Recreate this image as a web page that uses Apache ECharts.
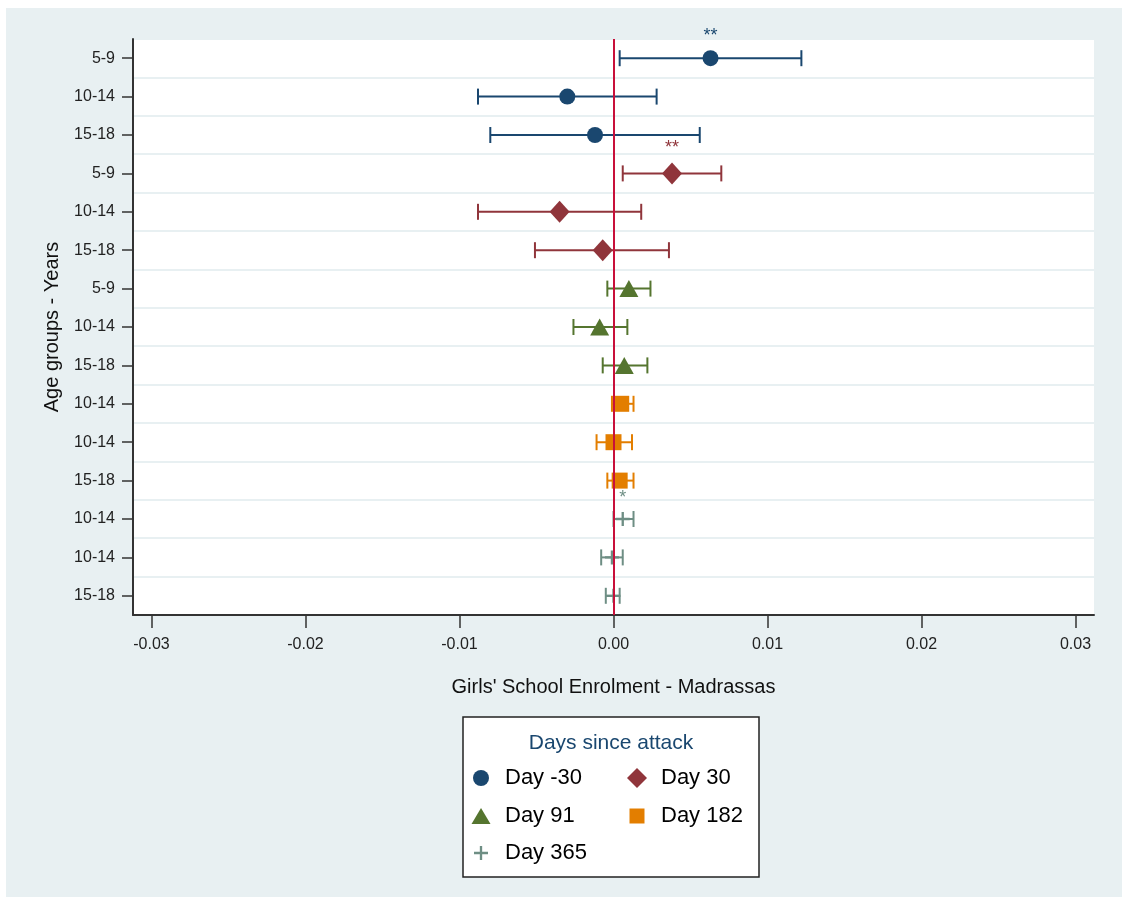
<!DOCTYPE html>
<html>
<head>
<meta charset="utf-8">
<title>Girls' School Enrolment - Madrassas</title>
<script src="https://cdn.jsdelivr.net/npm/echarts@6/dist/echarts.min.js"></script>
<style>
    body { margin: 0; background: #fff; }
    #chart { width: 1122px; height: 897px; background: #e8f0f2; box-shadow: inset 6px 8px 0 0 #fff; }
</style>
</head>
<body>
<div id="chart"></div>
<script>
// age group label of each row, top to bottom
var ageLabels = ['5-9', '10-14', '15-18', '5-9', '10-14', '15-18', '5-9', '10-14', '15-18',
    '10-14', '10-14', '15-18', '10-14', '10-14', '15-18'];
// which "days since attack" group each row belongs to
var rowGroup = [0, 0, 0, 1, 1, 1, 2, 2, 2, 3, 3, 3, 4, 4, 4];
var pointEst = [0.0063, -0.0030, -0.0012, 0.0038, -0.0035, -0.0007, 0.0010, -0.0009, 0.0007,
    0.0005, 0.0000, 0.0004, 0.0006, -0.0001, 0.0000];
var ciLow = [0.0004, -0.0088, -0.0080, 0.0006, -0.0088, -0.0051, -0.0004, -0.0026, -0.0007,
    -0.0001, -0.0011, -0.0004, 0.0000, -0.0008, -0.0005];
var ciHigh = [0.0122, 0.0028, 0.0056, 0.0070, 0.0018, 0.0036, 0.0024, 0.0009, 0.0022,
    0.0013, 0.0012, 0.0013, 0.0013, 0.0006, 0.0004];
var stars = ['**', '', '', '**', '', '', '', '', '', '', '', '', '*', '', ''];
var groupNames = ['Day -30', 'Day 30', 'Day 91', 'Day 182', 'Day 365'];
var xTicks = [-0.03, -0.02, -0.01, 0, 0.01, 0.02, 0.03];

var colors = ['#1a476f', '#90353b', '#55752f', '#e37e00', '#6e8e84'];
var plusPath = 'path://M5,0 H7 V5 H12 V7 H7 V12 H5 V7 H0 V5 H5 Z';
var symbols = ['circle', 'diamond', 'triangle', 'rect', plusPath];
var symbolSizes = [16, [20, 22], [19, 17], 16, 14];
var legendIcons = ['circle', 'diamond', 'triangle', 'rect', plusPath];
var legendSizes = [[16, 16], [20, 20], [19, 16], [15, 15], [14, 14]];
var legendPos = [[481, 778], [637, 778], [481, 816], [637, 816], [481, 853]];
var font = '"Liberation Sans", Arial, sans-serif';

function errorBar(params, api) {
    var row = api.value(2);
    var lo = api.coord([api.value(0), row]);
    var hi = api.coord([api.value(1), row]);
    var cap = 8;
    var st = {stroke: api.visual('color'), lineWidth: 2};
    return {
        type: 'group',
        children: [
            {type: 'line', shape: {x1: lo[0], y1: lo[1], x2: hi[0], y2: hi[1]}, style: st},
            {type: 'line', shape: {x1: lo[0], y1: lo[1] - cap, x2: lo[0], y2: lo[1] + cap}, style: st},
            {type: 'line', shape: {x1: hi[0], y1: hi[1] - cap, x2: hi[0], y2: hi[1] + cap}, style: st}
        ]
    };
}

var series = [];
var bars = [];
for (var g = 0; g < groupNames.length; g++) {
    var pts = [];
    var ci = [];
    for (var i = 0; i < ageLabels.length; i++) {
        if (rowGroup[i] != g) continue;
        pts.push([pointEst[i], i]);
        ci.push([ciLow[i], ciHigh[i], i]);
    }
    series.push({
        name: groupNames[g],
        type: 'scatter',
        symbol: symbols[g],
        symbolSize: symbolSizes[g],
        itemStyle: {color: colors[g], opacity: 1},
        z: 4,
        label: {
            show: true,
            position: 'top',
            distance: 5,
            fontSize: 18,
            fontFamily: font,
            color: colors[g],
            formatter: function (p) { return stars[p.data[1]]; }
        },
        data: pts
    });
    bars.push({
        name: groupNames[g],
        type: 'custom',
        renderItem: errorBar,
        itemStyle: {color: colors[g]},
        encode: {x: [0, 1], y: 2},
        z: 3,
        data: ci
    });
}
series = series.concat(bars);
// vertical reference line at zero
series[0].markLine = {
    silent: true,
    symbol: 'none',
    z: 10,
    label: {show: false},
    lineStyle: {color: '#c8103a', width: 2, type: 'solid'},
    data: [{xAxis: 0}]
};

var legends = [];
for (var k = 0; k < groupNames.length; k++) {
    var w = legendSizes[k][0];
    var h = legendSizes[k][1];
    legends.push({
        left: legendPos[k][0] - w / 2,
        top: legendPos[k][1] - 12,
        padding: 0,
        itemWidth: w,
        itemHeight: h,
        textStyle: {
            fontSize: 22, fontFamily: font, color: '#000', lineHeight: 24,
            padding: [0, 0, 0, 19 - w / 2]
        },
        data: [{name: groupNames[k], icon: legendIcons[k]}]
    });
}

var chart = echarts.init(document.getElementById('chart'));
chart.setOption({
    backgroundColor: 'transparent',
    animation: false,
    grid: {left: 133, right: 28, top: 39, bottom: 282, show: true, backgroundColor: '#fff', borderWidth: 0},
    xAxis: {
        type: 'value',
        min: -0.0312,
        max: 0.0312,
        name: "Girls' School Enrolment - Madrassas",
        nameLocation: 'middle',
        nameGap: 62,
        nameTextStyle: {fontSize: 20, fontFamily: font, color: '#111'},
        axisLine: {show: true, onZero: false, lineStyle: {color: '#333', width: 2}},
        axisTick: {show: true, length: 13, lineStyle: {color: '#333', width: 1.5}, customValues: xTicks},
        axisLabel: {
            fontSize: 16, fontFamily: font, color: '#222', margin: 22,
            customValues: xTicks,
            formatter: function (v) { return v.toFixed(2); }
        },
        splitLine: {show: false}
    },
    yAxis: {
        type: 'category',
        inverse: true,
        data: ageLabels,
        name: 'Age groups - Years',
        nameLocation: 'middle',
        nameGap: 71,
        nameTextStyle: {fontSize: 20, fontFamily: font, color: '#111'},
        axisLine: {show: true, onZero: false, lineStyle: {color: '#333', width: 2}},
        axisTick: {show: true, interval: 0, alignWithLabel: true, length: 11, lineStyle: {color: '#333', width: 1.5}},
        axisLabel: {interval: 0, fontSize: 16, fontFamily: font, color: '#222', margin: 18},
        splitLine: {show: true, interval: 0, lineStyle: {color: '#e8f0f2', width: 2}}
    },
    legend: legends,
    graphic: [
        {
            type: 'rect', z: 1,
            shape: {x: 463, y: 717, width: 296, height: 160},
            style: {fill: '#fff', stroke: '#222', lineWidth: 1.5}
        },
        {
            type: 'text', z: 2, x: 611, y: 743,
            style: {
                text: 'Days since attack', fill: '#1a476f', font: '21px ' + font,
                textAlign: 'center', textVerticalAlign: 'middle'
            }
        }
    ],
    series: series
});
</script>
</body>
</html>
